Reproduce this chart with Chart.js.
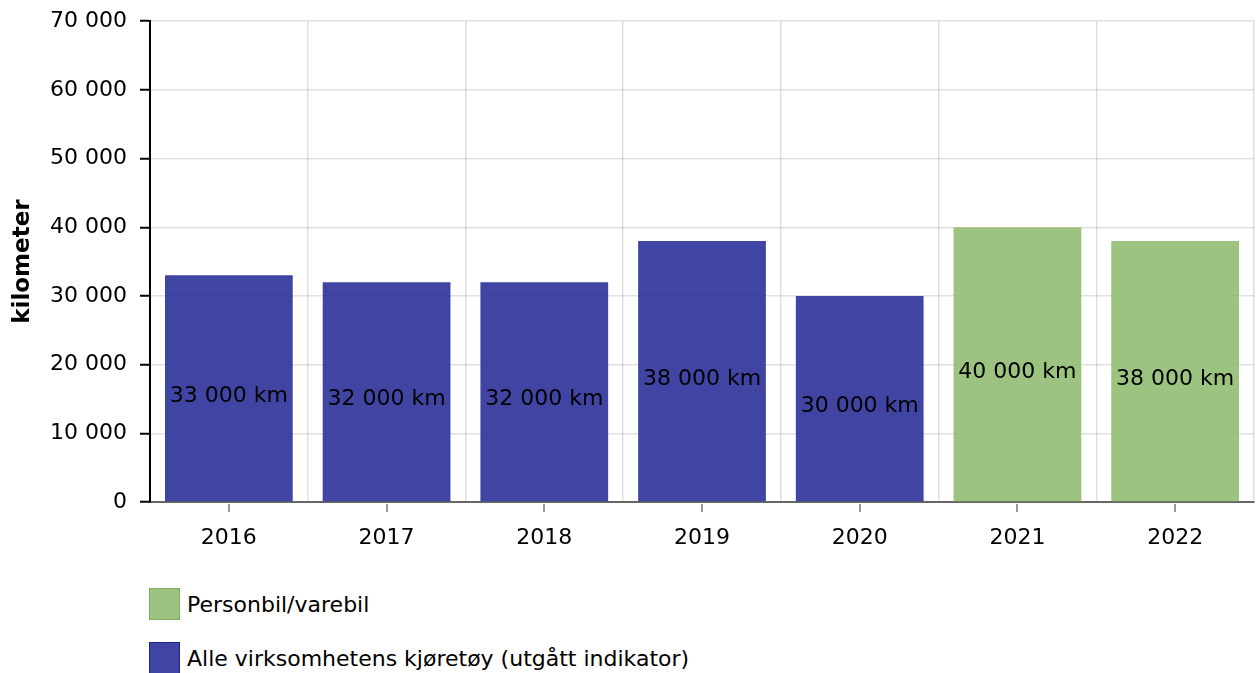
<!DOCTYPE html>
<html>
<head>
<meta charset="utf-8">
<script src="https://cdn.jsdelivr.net/npm/chart.js@4"></script>
<style>
  body { margin: 0; background: #fff; font-family: "DejaVu Sans", Verdana, sans-serif; }
  #wrap { position: relative; width: 1256px; height: 673px; overflow: hidden; }
  #chart { position: absolute; left: 0; top: -5px; }
  #legend { position: absolute; left: 149px; top: 588px; }
  .item { display: flex; align-items: center; height: 32px; margin-bottom: 22px; font-size: 22px; color: #000; }
  .box { width: 29px; height: 30px; margin-right: 7px; border: 1px solid; }
</style>
</head>
<body>
<div id="wrap">
  <canvas id="chart" width="1256" height="565"></canvas>
  <div id="legend"></div>
</div>
<script>
const years = ['2016', '2017', '2018', '2019', '2020', '2021', '2022'];
const personbil = [null, null, null, null, null, 40000, 38000];
const alleKjoretoy = [33000, 32000, 32000, 38000, 30000, null, null];
const yTicks = [0, 10000, 20000, 30000, 40000, 50000, 60000, 70000];

const fmt = v => String(v).replace(/\B(?=(\d{3})+(?!\d))/g, ' ');

// etiketter midt i søylene + små tick-streker under x-aksen
const barLabels = {
    id: 'barLabels',
    afterDatasetsDraw(chart) {
        const ctx = chart.ctx;
        ctx.save();
        ctx.font = '22px "DejaVu Sans"';
        ctx.fillStyle = '#000';
        ctx.textAlign = 'center';
        ctx.textBaseline = 'middle';
        chart.data.datasets.forEach((ds, i) => {
            chart.getDatasetMeta(i).data.forEach((bar, j) => {
                const v = ds.data[j];
                if (v == null) return;
                ctx.fillText(fmt(v) + ' km', bar.x, (bar.y + bar.base) / 2 + 8);
            });
        });
        const x = chart.scales.x;
        ctx.strokeStyle = '#999';
        ctx.lineWidth = 2;
        years.forEach((y, i) => {
            const px = Math.round(x.getPixelForValue(i));
            ctx.beginPath();
            ctx.moveTo(px, x.top + 2);
            ctx.lineTo(px, x.top + 10);
            ctx.stroke();
        });
        ctx.restore();
    }
};

const chart = new Chart(document.getElementById('chart'), {
    type: 'bar',
    data: {
        labels: years,
        datasets: [{
            label: 'Personbil/varebil',
            data: personbil,
            backgroundColor: 'rgba(145,189,114,0.9)',
            legendBorder: '#7fae5c'
        }, {
            label: 'Alle virksomhetens kjøretøy (utgått indikator)',
            data: alleKjoretoy,
            backgroundColor: 'rgba(43,48,153,0.9)',
            legendBorder: '#1e2496'
        }]
    },
    options: {
        responsive: false,
        animation: false,
        layout: { padding: { top: 3, right: 2 } },
        datasets: { bar: { barPercentage: 0.81, categoryPercentage: 1, grouped: false } },
        plugins: { legend: { display: false }, tooltip: { enabled: false } },
        scales: {
            x: {
                grid: { offset: true, drawTicks: false, color: 'rgba(0,0,0,0.12)', lineWidth: 1.5 },
                border: { color: '#666', width: 2 },
                ticks: { color: '#000', padding: 23, font: { family: 'DejaVu Sans', size: 22 } },
                afterFit: s => { s.height = 58; }
            },
            y: {
                min: 0,
                max: 70000,
                afterBuildTicks: s => { s.ticks = yTicks.map(v => ({ value: v })); },
                grid: { color: 'rgba(0,0,0,0.12)', lineWidth: 1.5, tickLength: 10, tickColor: '#000', tickWidth: 2 },
                border: { color: '#000', width: 2 },
                ticks: { color: '#000', padding: 13, font: { family: 'DejaVu Sans', size: 22 }, callback: v => fmt(v) },
                title: { display: true, text: 'kilometer', color: '#000', padding: { top: 9 }, font: { family: 'DejaVu Sans', size: 23, weight: 'bold' } },
                afterFit: s => { s.width = 150; }
            }
        }
    },
    plugins: [barLabels]
});

// HTML-legend, en linje per serie
const legend = document.getElementById('legend');
chart.data.datasets.forEach(ds => {
    const item = document.createElement('div');
    item.className = 'item';
    const box = document.createElement('span');
    box.className = 'box';
    box.style.background = ds.backgroundColor;
    box.style.borderColor = ds.legendBorder;
    item.appendChild(box);
    item.appendChild(document.createTextNode(ds.label));
    legend.appendChild(item);
});
</script>
</body>
</html>
